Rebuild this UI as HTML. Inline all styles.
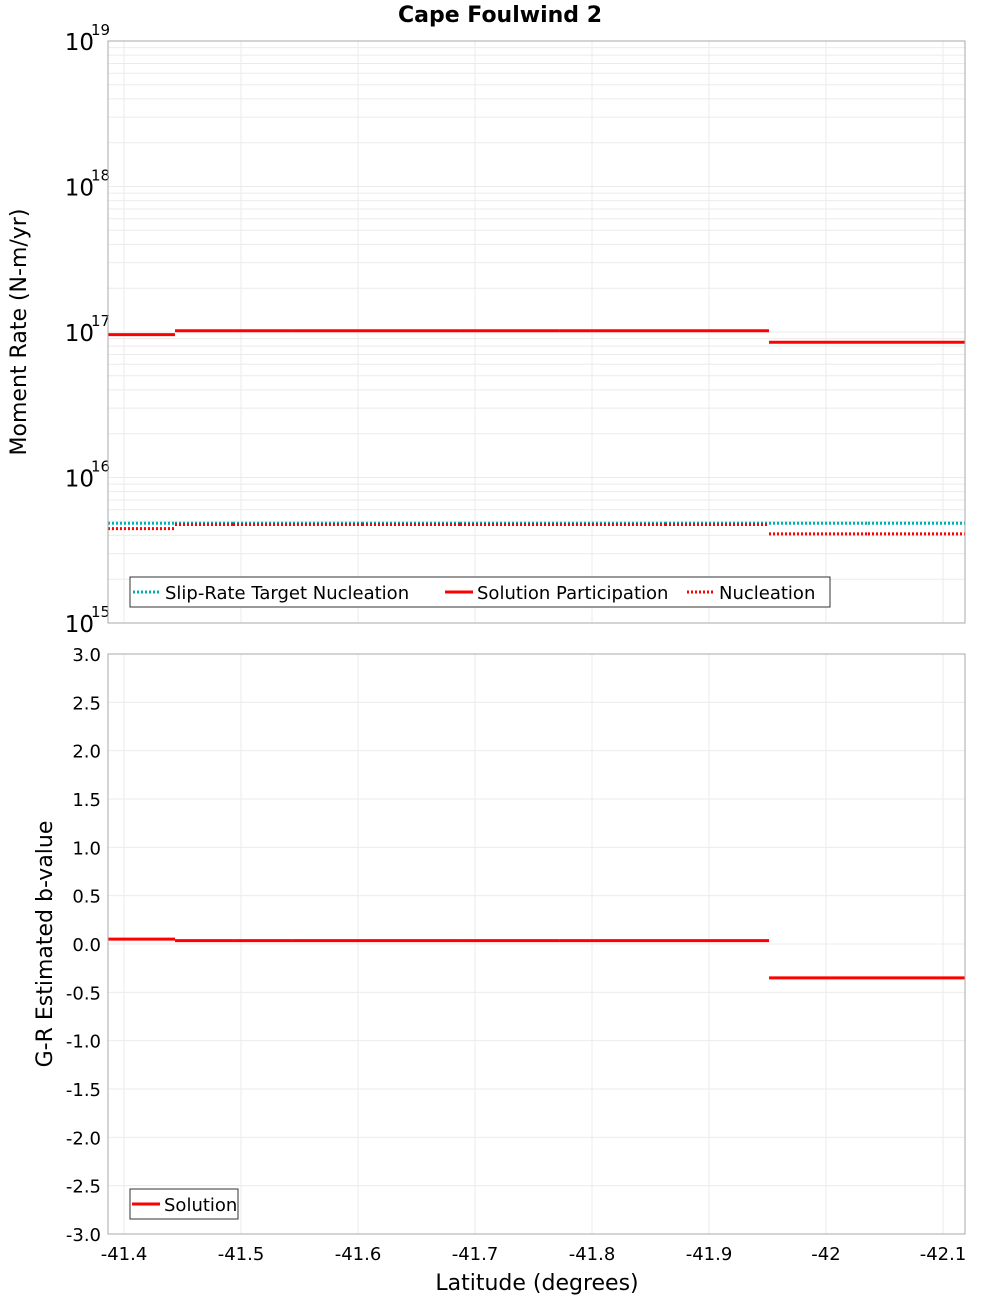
<!DOCTYPE html>
<html><head><meta charset="utf-8"><style>
body{margin:0;background:#fff;}
svg{display:block;font-family:"DejaVu Sans","Liberation Sans",sans-serif;}
</style></head><body>
<svg id="chart" width="1000" height="1300" viewBox="0 0 1000 1300">
<text x="500" y="22" text-anchor="middle" font-size="22" font-weight="bold">Cape Foulwind 2</text>
<g id="topPanel"></g>
<g id="botPanel"></g>
<text transform="translate(26,332) rotate(-90)" text-anchor="middle" font-size="22">Moment Rate (N-m/yr)</text>
<text transform="translate(52,944) rotate(-90)" text-anchor="middle" font-size="22">G-R Estimated b-value</text>
<text x="537" y="1290" text-anchor="middle" font-size="22">Latitude (degrees)</text>
</svg>
<script>
// data
const sectionBounds = [-41.3863,-41.4436,-41.4932,-41.5444,-41.6034,-41.6872,-41.7726,-41.8624,-41.9513,-42.0359,-42.1188];
const targetNucleation = [4.85e15,4.85e15,4.85e15,4.85e15,4.85e15,4.85e15,4.85e15,4.85e15,4.85e15,4.85e15];
const solutionParticipation = [9.6e16,1.02e17,1.02e17,1.02e17,1.02e17,1.02e17,1.02e17,1.02e17,8.5e16,8.5e16];
const nucleation = [4.45e15,4.75e15,4.75e15,4.75e15,4.75e15,4.75e15,4.75e15,4.75e15,4.1e15,4.1e15];
const bValue = [0.05,0.035,0.035,0.035,0.035,0.035,0.035,0.035,-0.35,-0.35];
const xTicks = [-41.4,-41.5,-41.6,-41.7,-41.8,-41.9,-42,-42.1];
const xTickLabels = ['-41.4','-41.5','-41.6','-41.7','-41.8','-41.9','-42','-42.1'];
const bTicks = [3,2.5,2,1.5,1,0.5,0,-0.5,-1,-1.5,-2,-2.5,-3];
const logDecades = [15,16,17,18,19];

const NS='http://www.w3.org/2000/svg';
const L=108,R=965;
const xS=v=>124+(-41.4-v)*1170;
const T1=41,B1=623, yLog=v=>B1-(Math.log10(v)-15)*(B1-T1)/4;
const T2=654,B2=1234, yB=v=>B2-(v+3)*(B2-T2)/6;
function mk(p,tag,at,txt){const e=document.createElementNS(NS,tag);for(const k in at)e.setAttribute(k,at[k]);if(txt!==undefined)e.textContent=txt;p.appendChild(e);return e;}
const topG=document.getElementById('topPanel'),botG=document.getElementById('botPanel');

for(let d=15;d<19;d++)for(let m=1;m<10;m++){const y=yLog(m*Math.pow(10,d));
 const g=mk(topG,'line',{x1:L,x2:R,y1:y,y2:y,stroke:'#ebebeb','stroke-width':1});
 
 }
xTicks.forEach(v=>{[[T1,B1,topG],[T2,B2,botG]].forEach(([a,b,p])=>{const g=mk(p,'line',{x1:xS(v),x2:xS(v),y1:a,y2:b,stroke:'#ebebeb','stroke-width':1});
 
 });});
bTicks.forEach(v=>{const y=yB(v);const g=mk(botG,'line',{x1:L,x2:R,y1:y,y2:y,stroke:'#ebebeb','stroke-width':1});
 
 
 const t=mk(botG,'text',{x:101,y:y+7,'text-anchor':'end','font-size':18},v.toFixed(1));
 
 });
logDecades.forEach(d=>{const y=yLog(Math.pow(10,d));
 const t=mk(topG,'text',{x:94,y:y+9,'text-anchor':'end','font-size':23},'10');
 
 
 const s=mk(topG,'text',{x:91,y:y-6,'font-size':15},String(d));
 
 });
xTicks.forEach((v,i)=>{const t=mk(botG,'text',{x:xS(v),y:1260,'text-anchor':'middle','font-size':18},xTickLabels[i]);
 
 });

function steps(p,vals,yf,color,dash,name){for(let i=0;i<vals.length;i++){const at={x1:xS(sectionBounds[i]),x2:xS(sectionBounds[i+1]),y1:yf(vals[i]),y2:yf(vals[i]),stroke:color,'stroke-width':3};if(dash)at['stroke-dasharray']=dash;
 const l=mk(p,'line',at);
 
 }}
steps(topG,targetNucleation,yLog,'#00b0b0','2 2','target-nucleation-segment');
steps(topG,nucleation,yLog,'#ff0000','2 2','nucleation-segment');
steps(topG,solutionParticipation,yLog,'#ff0000',null,'solution-participation-segment');
steps(botG,bValue,yB,'#ff0000',null,'b-value-segment');

[[T1,B1,topG],[T2,B2,botG]].forEach(([a,b,p])=>{const r=mk(p,'rect',{x:L,y:a,width:R-L,height:b-a,fill:'none',stroke:'#aaa','stroke-width':1});
 
 });

function legend(p,x,y,w,items,name){const g=mk(p,'g',{});
 
 
 mk(g,'rect',{x:x,y:y,width:w,height:30,fill:'#fff',stroke:'#333','stroke-width':1});
 items.forEach(it=>{const l=mk(g,'line',{x1:it.x,x2:it.x+28,y1:y+15,y2:y+15,stroke:it.c,'stroke-width':3,'stroke-dasharray':it.d||'none'});
  
  
  const t=mk(g,'text',{x:it.x+32,y:y+22,'font-size':18},it.t);
  
  });}
legend(topG,130,577,700,[{x:133,c:'#00b0b0',d:'2 2',t:'Slip-Rate Target Nucleation'},{x:445,c:'#ff0000',t:'Solution Participation'},{x:687,c:'#ff0000',d:'2 2',t:'Nucleation'}],'moment-legend');
legend(botG,130,1189,108,[{x:132,c:'#ff0000',t:'Solution'}],'b-value-legend');
</script>
</body></html>
